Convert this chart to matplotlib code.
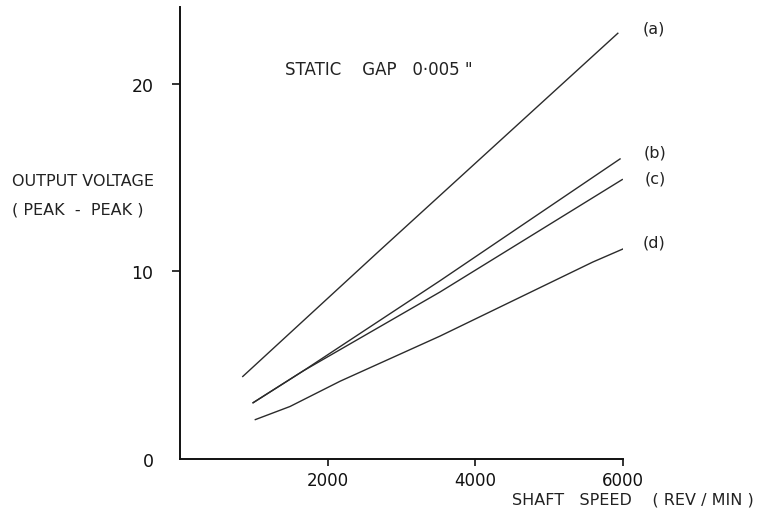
import numpy as np
import matplotlib.pyplot as plt

# values (shaft speed rev/min, output voltage peak-peak)
speed_a = [850, 2700, 5930]
volts_a = [4.4, 11.1, 22.7]

speed_b = [990, 1670, 3520, 5960]
volts_b = [3.0, 4.7, 9.5, 16.0]

speed_c = [990, 1670, 3520, 5990]
volts_c = [3.0, 4.7, 8.9, 14.9]

speed_d = [1020, 1490, 2170, 3520, 5590, 6000]
volts_d = [2.1, 2.8, 4.15, 6.55, 10.5, 11.2]

curve_names = ["(a)", "(b)", "(c)", "(d)"]
x_ticks = [2000, 4000, 6000]
y_ticks = [0, 10, 20]

W, H = 762, 510
fig = plt.figure(figsize=(W / 100, H / 100), dpi=100)
ax = fig.add_axes([180 / W, 1 - 460 / H, (623 - 180) / W, (460 - 8) / H])

ink = "#2b2b2b"
fs = 11.5

curves = [(speed_a, volts_a), (speed_b, volts_b), (speed_c, volts_c), (speed_d, volts_d)]
offsets = [(26, 4), (25, 5), (24, 1), (22, 5)]
for (sx, sy), name, off in zip(curves, curve_names, offsets):
    ax.plot(sx, sy, color=ink, lw=1.0)
    ax.annotate(name, xy=(sx[-1], sy[-1]), xytext=off, textcoords="offset points",
                fontsize=fs, color="#222222", ha="center", va="center")

ax.set_xlim(0, 6000)
ax.set_ylim(0, 24.1)
for s in ["top", "right"]:
    ax.spines[s].set_visible(False)
for s in ["left", "bottom"]:
    ax.spines[s].set_linewidth(1.4)
    ax.spines[s].set_color("#111111")

ax.set_xticks(x_ticks)
ax.set_xticklabels([str(t) for t in x_ticks])
ax.set_yticks(y_ticks)
ax.set_yticklabels([str(t) for t in y_ticks])
ax.tick_params(axis="x", direction="out", length=5, width=1.2, pad=4, labelsize=12, colors="#111111")
ax.tick_params(axis="y", direction="out", length=6, width=1.2, pad=13, labelsize=12.5, colors="#111111")
ax.yaxis.get_major_ticks()[0].tick1line.set_visible(False)

def ftext(px, py, s, size=fs, **kw):
    fig.text(px / W, 1 - py / H, s, fontsize=size, color="#222222", va="center", **kw)

ftext(12, 182, "OUTPUT VOLTAGE", ha="left")
ftext(12, 210, "( PEAK  -  PEAK )", ha="left")
ftext(285, 70, 'STATIC    GAP   0·005 "', size=12, ha="left")
ftext(754, 500, "SHAFT   SPEED    ( REV / MIN )", ha="right")

fig.savefig("out.png", dpi=100)
